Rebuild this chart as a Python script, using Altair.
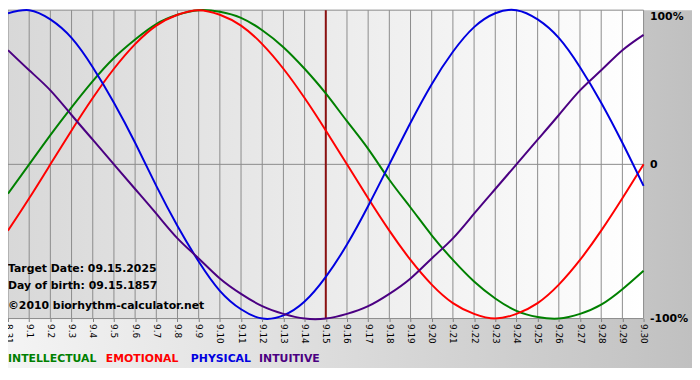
import altair as alt
import pandas as pd

# ---- data ----
day_labels = ["8.31", "9.1", "9.2", "9.3", "9.4", "9.5", "9.6", "9.7", "9.8", "9.9",
              "9.10", "9.11", "9.12", "9.13", "9.14", "9.15", "9.16", "9.17", "9.18",
              "9.19", "9.20", "9.21", "9.22", "9.23", "9.24", "9.25", "9.26", "9.27",
              "9.28", "9.29", "9.30"]
days = list(range(len(day_labels)))

physical = [0.98, 1.00, 0.94, 0.82, 0.63, 0.40, 0.14, -0.14, -0.40, -0.63, -0.82,
            -0.94, -1.00, -0.98, -0.89, -0.73, -0.52, -0.27, 0.00, 0.27, 0.52,
            0.73, 0.89, 0.98, 1.00, 0.94, 0.82, 0.63, 0.40, 0.14, -0.14]
emotional = [-0.43, -0.22, 0.00, 0.22, 0.43, 0.62, 0.78, 0.90, 0.97, 1.00, 0.97,
             0.90, 0.78, 0.62, 0.43, 0.22, 0.00, -0.22, -0.43, -0.62, -0.78,
             -0.90, -0.97, -1.00, -0.97, -0.90, -0.78, -0.62, -0.43, -0.22, 0.00]
intellectual = [-0.19, 0.00, 0.19, 0.37, 0.54, 0.69, 0.81, 0.91, 0.97, 1.00, 0.99,
                0.95, 0.87, 0.76, 0.62, 0.46, 0.28, 0.10, -0.10, -0.28, -0.46,
                -0.62, -0.76, -0.87, -0.95, -0.99, -1.00, -0.97, -0.91, -0.81, -0.69]
intuitive = [0.74, 0.61, 0.48, 0.32, 0.16, 0.00, -0.16, -0.32, -0.48, -0.61, -0.74,
             -0.84, -0.92, -0.97, -1.00, -1.00, -0.97, -0.92, -0.84, -0.74, -0.61,
             -0.48, -0.32, -0.16, 0.00, 0.16, 0.32, 0.48, 0.61, 0.74, 0.84]

series_names = ["INTELLECTUAL", "EMOTIONAL", "PHYSICAL", "INTUITIVE"]
series_colors = ["#008000", "#ff0000", "#0000e0", "#4b0082"]
series_values = [intellectual, emotional, physical, intuitive]

y_ticks = [-1, 0, 1]
y_tick_labels = ["-100%", "0", "100%"]
target_day = [15]

info_lines = ["Target Date: 09.15.2025", "Day of birth: 09.15.1857",
              "\u00a92010 biorhythm-calculator.net"]

# ---- build tables ----
rows = []
for name, vals in zip(series_names, series_values):
    for d, v in zip(days, vals):
        rows.append({"day": d, "value": v, "series": name})
curves = pd.DataFrame(rows)

W, H = 643, 312
FONT = "DejaVu Sans"

label_arr = "[" + ",".join("'%s'" % s for s in day_labels) + "]"
ylab_expr = ("datum.value == 1 ? '%s' : (datum.value == 0 ? '%s' : '%s')"
             % (y_tick_labels[2], y_tick_labels[1], y_tick_labels[0]))

xscale = alt.Scale(domain=[0, 30], nice=False, zero=False)
yscale = alt.Scale(domain=[-1, 1], nice=False)

xaxis = alt.Axis(values=days, labelExpr=label_arr + "[datum.value]", title=None,
                 grid=False, domain=False, ticks=True, tickSize=3, tickColor="#808080",
                 labelAngle=90, labelAlign="left", labelBaseline="middle",
                 labelFont=FONT, labelFontSize=9, labelColor="#000000",
                 labelPadding=2, labelOverlap=False, labelFlush=False, zindex=1)
yaxis = alt.Axis(values=y_ticks, labelExpr=ylab_expr, title=None, orient="right",
                 grid=False, domain=False, ticks=False, labelFont=FONT,
                 labelFontSize=11, labelFontWeight="bold", labelColor="#000000",
                 labelPadding=6, labelAlign="left", labelOverlap=False,
                 labelBaseline={"condition": {"test": "datum.value == 1", "value": "top"},
                                "value": "middle"},
                 labelFlush=False, zindex=1)

one = pd.DataFrame({"a": [0]})

outer_bg = alt.Chart(one).mark_rect(
    fill=alt.Gradient(gradient="linear", x1=0, x2=1, y1=0, y2=0,
                      stops=[alt.GradientStop(color="#f4f4f4", offset=0),
                             alt.GradientStop(color="#c6c6c6", offset=0.9),
                             alt.GradientStop(color="#c0c0c0", offset=1)]),
    strokeWidth=0
).encode(x=alt.value(0), x2=alt.value(692), y=alt.value(0), y2=alt.value(362))

plot_bg = alt.Chart(one).mark_rect(
    fill=alt.Gradient(gradient="linear", x1=0, x2=1, y1=0, y2=0,
                      stops=[alt.GradientStop(color="#d8d8d8", offset=0),
                             alt.GradientStop(color="#ffffff", offset=1)]),
    strokeWidth=0
).encode(x=alt.value(0), x2=alt.value(W), y=alt.value(0), y2=alt.value(H))

vgrid = alt.Chart(pd.DataFrame({"day": days})).mark_rule(
    color="#8c8c8c", strokeWidth=1
).encode(x=alt.X("day:Q", scale=xscale, axis=xaxis))

hgrid = alt.Chart(pd.DataFrame({"v": y_ticks})).mark_rule(
    color="#8c8c8c", strokeWidth=1
).encode(y=alt.Y("v:Q", scale=yscale, axis=yaxis))

target = alt.Chart(pd.DataFrame({"day": target_day})).mark_rule(
    color="#8b1010", strokeWidth=2
).encode(x=alt.X("day:Q", scale=xscale, axis=xaxis))

lines = alt.Chart(curves).mark_line(strokeWidth=2, interpolate="natural").encode(
    x=alt.X("day:Q", scale=xscale, axis=xaxis),
    y=alt.Y("value:Q", scale=yscale, axis=yaxis),
    color=alt.Color("series:N", scale=alt.Scale(domain=series_names, range=series_colors),
                    legend=None),
    detail="series:N",
)

info_layers = []
for txt, ypix in zip(info_lines, [262, 279, 299]):
    info_layers.append(
        alt.Chart(pd.DataFrame({"t": [txt]})).mark_text(
            align="left", baseline="middle", font=FONT, fontSize=11,
            fontWeight="bold", color="#000000"
        ).encode(x=alt.value(0), y=alt.value(ypix), text="t:N")
    )

legend_layers = []
for name, col, xpix in zip(series_names, series_colors, [0, 99, 185, 254]):
    legend_layers.append(
        alt.Chart(pd.DataFrame({"t": [name]})).mark_text(
            align="left", baseline="middle", font=FONT, fontSize=11,
            fontWeight="bold", color=col
        ).encode(x=alt.value(xpix), y=alt.value(353), text="t:N")
    )

chart = alt.layer(outer_bg, plot_bg, vgrid, hgrid, target, lines,
                  *info_layers, *legend_layers).properties(
    width=W, height=H,
    autosize=alt.AutoSizeParams(type="none"),
    padding={"left": 0, "top": 0, "right": 49, "bottom": 60},
).configure_view(strokeWidth=0).configure(background="#ffffff")

chart.save("out.html", embed_options={"renderer": "svg", "actions": False})
